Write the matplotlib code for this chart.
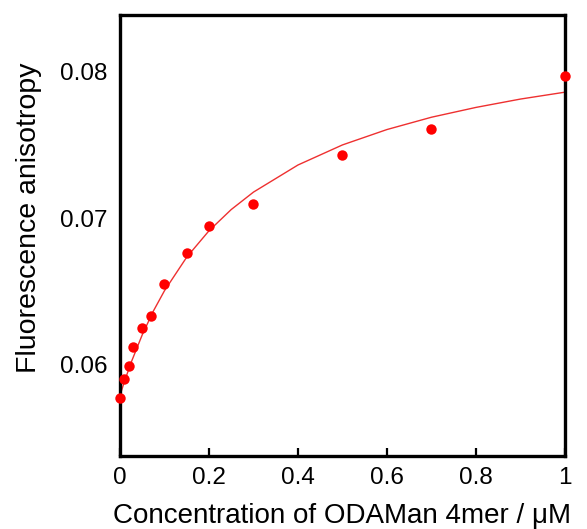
import matplotlib
matplotlib.use('Agg')
import matplotlib.pyplot as plt

plt.rcParams['font.family'] = ['Liberation Sans', 'DejaVu Sans']

# measured points
conc = [0, 0.01, 0.02, 0.03, 0.05, 0.07, 0.1, 0.15, 0.2, 0.3, 0.5, 0.7, 1.0]
anisotropy = [0.0577, 0.0590, 0.0599, 0.0612, 0.0625, 0.0633, 0.0655,
              0.0676, 0.0695, 0.0710, 0.0743, 0.0761, 0.0797]

# fitted curve
fit_x = [0, 0.01, 0.025, 0.05, 0.075, 0.1, 0.15, 0.2, 0.25, 0.3,
         0.4, 0.5, 0.6, 0.7, 0.8, 0.9, 1.0]
fit_y = [0.0579, 0.05885, 0.06015, 0.06204, 0.06366, 0.06505, 0.06734,
         0.06914, 0.07059, 0.07178, 0.07363, 0.0750, 0.07605, 0.07689,
         0.07756, 0.07813, 0.0786]

xticks = [0, 0.2, 0.4, 0.6, 0.8, 1]
xtick_labels = ['0', '0.2', '0.4', '0.6', '0.8', '1']
yticks = [0.06, 0.07, 0.08]
ytick_labels = ['0.06', '0.07', '0.08']

fig = plt.figure(figsize=(5.87, 5.29), dpi=100)
ax = fig.add_axes([0.2044, 0.138, 0.758, 0.834])

ax.plot(fit_x, fit_y, '-', color='#ee3030', lw=1.0, zorder=2)
ax.plot(conc, anisotropy, 'o', color='#ff0000', markersize=7.5,
        markeredgewidth=0, clip_on=False, zorder=3)

ax.set_xlim(0, 1)
ax.set_ylim(0.05377, 0.08388)

ax.set_xticks(xticks)
ax.set_xticklabels(xtick_labels)
ax.set_yticks(yticks)
ax.set_yticklabels(ytick_labels)

for s in ax.spines.values():
    s.set_linewidth(2.4)
ax.tick_params(axis='x', direction='in', length=6, width=1.6,
               labelsize=17.5, pad=8)
ax.tick_params(axis='y', length=0, labelsize=17.5, pad=9)

ax.set_xlabel('Concentration of ODAMan 4mer / \u03bcM', fontsize=20, labelpad=10)
ax.set_ylabel('Fluorescence anisotropy', fontsize=20.5)
ax.yaxis.set_label_coords(-0.175, 0.54)

fig.savefig('out.png', dpi=100)
